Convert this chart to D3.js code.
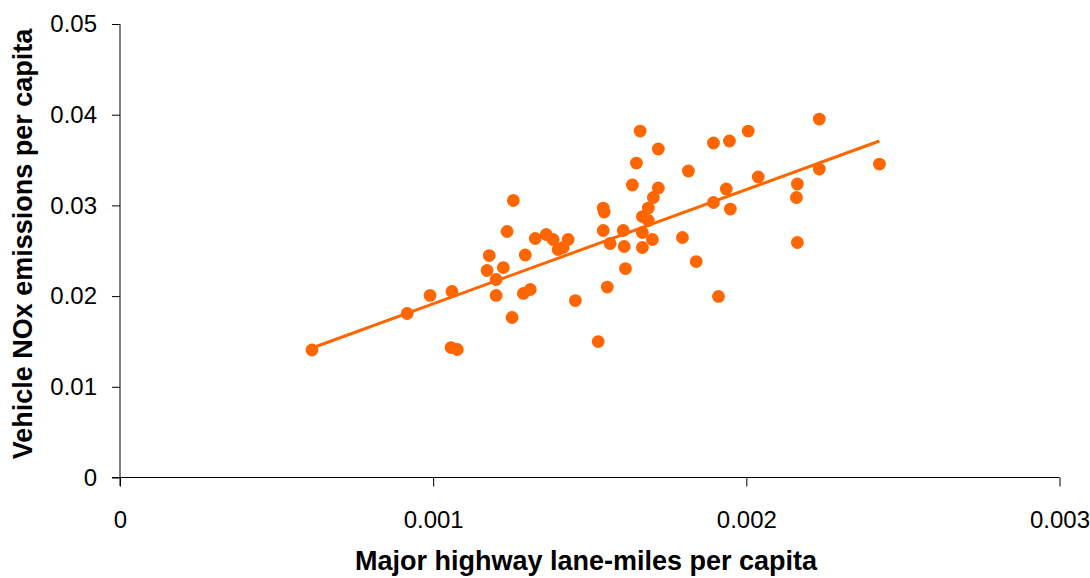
<!DOCTYPE html>
<html>
<head>
<meta charset="utf-8">
<script src="https://cdn.jsdelivr.net/npm/d3@7"></script>
<style>
  body { margin: 0; background: #fff; }
  svg { display: block; font-family: "Liberation Sans", Arial, sans-serif; }
</style>
</head>
<body>
<svg id="chart" width="1090" height="578"></svg>
<script>
// lane-miles per capita (x) and NOx per capita (y)
let laneMiles = [
  0.000613, 0.000917, 0.000990, 0.001060, 0.001057, 0.001077, 0.001172, 0.001179,
  0.001201, 0.001201, 0.001224, 0.001236, 0.001252, 0.001256, 0.001288, 0.001294,
  0.001310, 0.001326, 0.001361, 0.001383, 0.001399, 0.001415, 0.001431, 0.001454,
  0.001527, 0.001543, 0.001546, 0.001543, 0.001556, 0.001565, 0.001607, 0.001610,
  0.001614, 0.001636, 0.001649, 0.001661, 0.001668, 0.001668, 0.001668, 0.001687,
  0.001687, 0.001700, 0.001703, 0.001719, 0.001719, 0.001796, 0.001815, 0.001840,
  0.001895, 0.001895, 0.001911, 0.001936, 0.001946, 0.001949, 0.002006, 0.002038,
  0.002163, 0.002160, 0.002163, 0.002233, 0.002233, 0.002425
];
let noxEmissions = [
  0.01406, 0.01808, 0.02007, 0.02051, 0.01433, 0.01411, 0.02282, 0.02447,
  0.02183, 0.02007, 0.02315, 0.02712, 0.01764, 0.03054, 0.02029, 0.02453,
  0.02073, 0.02635, 0.02679, 0.02624, 0.02514, 0.02536, 0.02624, 0.01951,
  0.01499, 0.02971, 0.02927, 0.02723, 0.02100, 0.02580, 0.02723, 0.02547,
  0.02304, 0.03225, 0.03467, 0.03820, 0.02877, 0.02701, 0.02536, 0.02971,
  0.02833, 0.02624, 0.03087, 0.03192, 0.03622, 0.02646, 0.03379, 0.02381,
  0.03688, 0.03032, 0.01996, 0.03181, 0.03710, 0.02960, 0.03820, 0.03313,
  0.02591, 0.03087, 0.03236, 0.03952, 0.03401, 0.03456
];
// linear trendline ends as drawn in the original
let trendX = [0.000613, 0.002425];
let trendY = [0.01428, 0.03710];

let xTicks = [0, 0.001, 0.002, 0.003];
let yTicks = [0, 0.01, 0.02, 0.03, 0.04, 0.05];

let points = laneMiles.map((d, i) => ({ x: d, y: noxEmissions[i] }));

let svg = d3.select("#chart");
let x = d3.scaleLinear().domain([0, 0.003]).range([120, 1059.5]);
let y = d3.scaleLinear().domain([0, 0.05]).range([477.5, 24]);

// axes
let xAxis = svg.append("g")
    .attr("transform", "translate(0,477.5)")
    .call(d3.axisBottom(x).tickValues(xTicks).tickSize(9).tickPadding(24)
        .tickFormat(d => d === 0 ? "0" : d3.format(".3f")(d)));
let yAxis = svg.append("g")
    .attr("transform", "translate(120,0)")
    .call(d3.axisLeft(y).tickValues(yTicks).tickSize(8).tickPadding(15)
        .tickFormat(d => d === 0 ? "0" : d3.format(".2f")(d)));

[xAxis, yAxis].forEach(g => {
    g.select(".domain").remove();
    g.selectAll("line").attr("stroke", "#000").attr("stroke-width", 1);
    g.selectAll("text").attr("fill", "#000").style("font-size", "24px")
        .style("font-family", "'Liberation Sans', Arial, sans-serif");
});

// axis lines
svg.append("line").attr("x1", 112).attr("x2", x(0.003)).attr("y1", 477.5).attr("y2", 477.5)
    .attr("stroke", "#000");
svg.append("line").attr("x1", 120).attr("x2", 120).attr("y1", y(0.05)).attr("y2", 486)
    .attr("stroke", "#000");

svg.append("g").selectAll("circle")
    .data(points).enter().append("circle")
    .attr("cx", d => x(d.x))
    .attr("cy", d => y(d.y))
    .attr("r", 6.4)
    .attr("fill", "#ff6600");

svg.append("line")
    .attr("x1", x(trendX[0])).attr("y1", y(trendY[0]))
    .attr("x2", x(trendX[1])).attr("y2", y(trendY[1]))
    .attr("stroke", "#ff6600")
    .attr("stroke-width", 3);

// titles
svg.append("text")
    .attr("x", 586).attr("y", 569.5)
    .attr("text-anchor", "middle")
    .style("font-size", "27px").style("font-weight", "bold")
    .text("Major highway lane-miles per capita");

svg.append("text")
    .attr("transform", "translate(32,244) rotate(-90)")
    .attr("text-anchor", "middle")
    .style("font-size", "27px").style("font-weight", "bold")
    .text("Vehicle NOx emissions per capita");
</script>
</body>
</html>
